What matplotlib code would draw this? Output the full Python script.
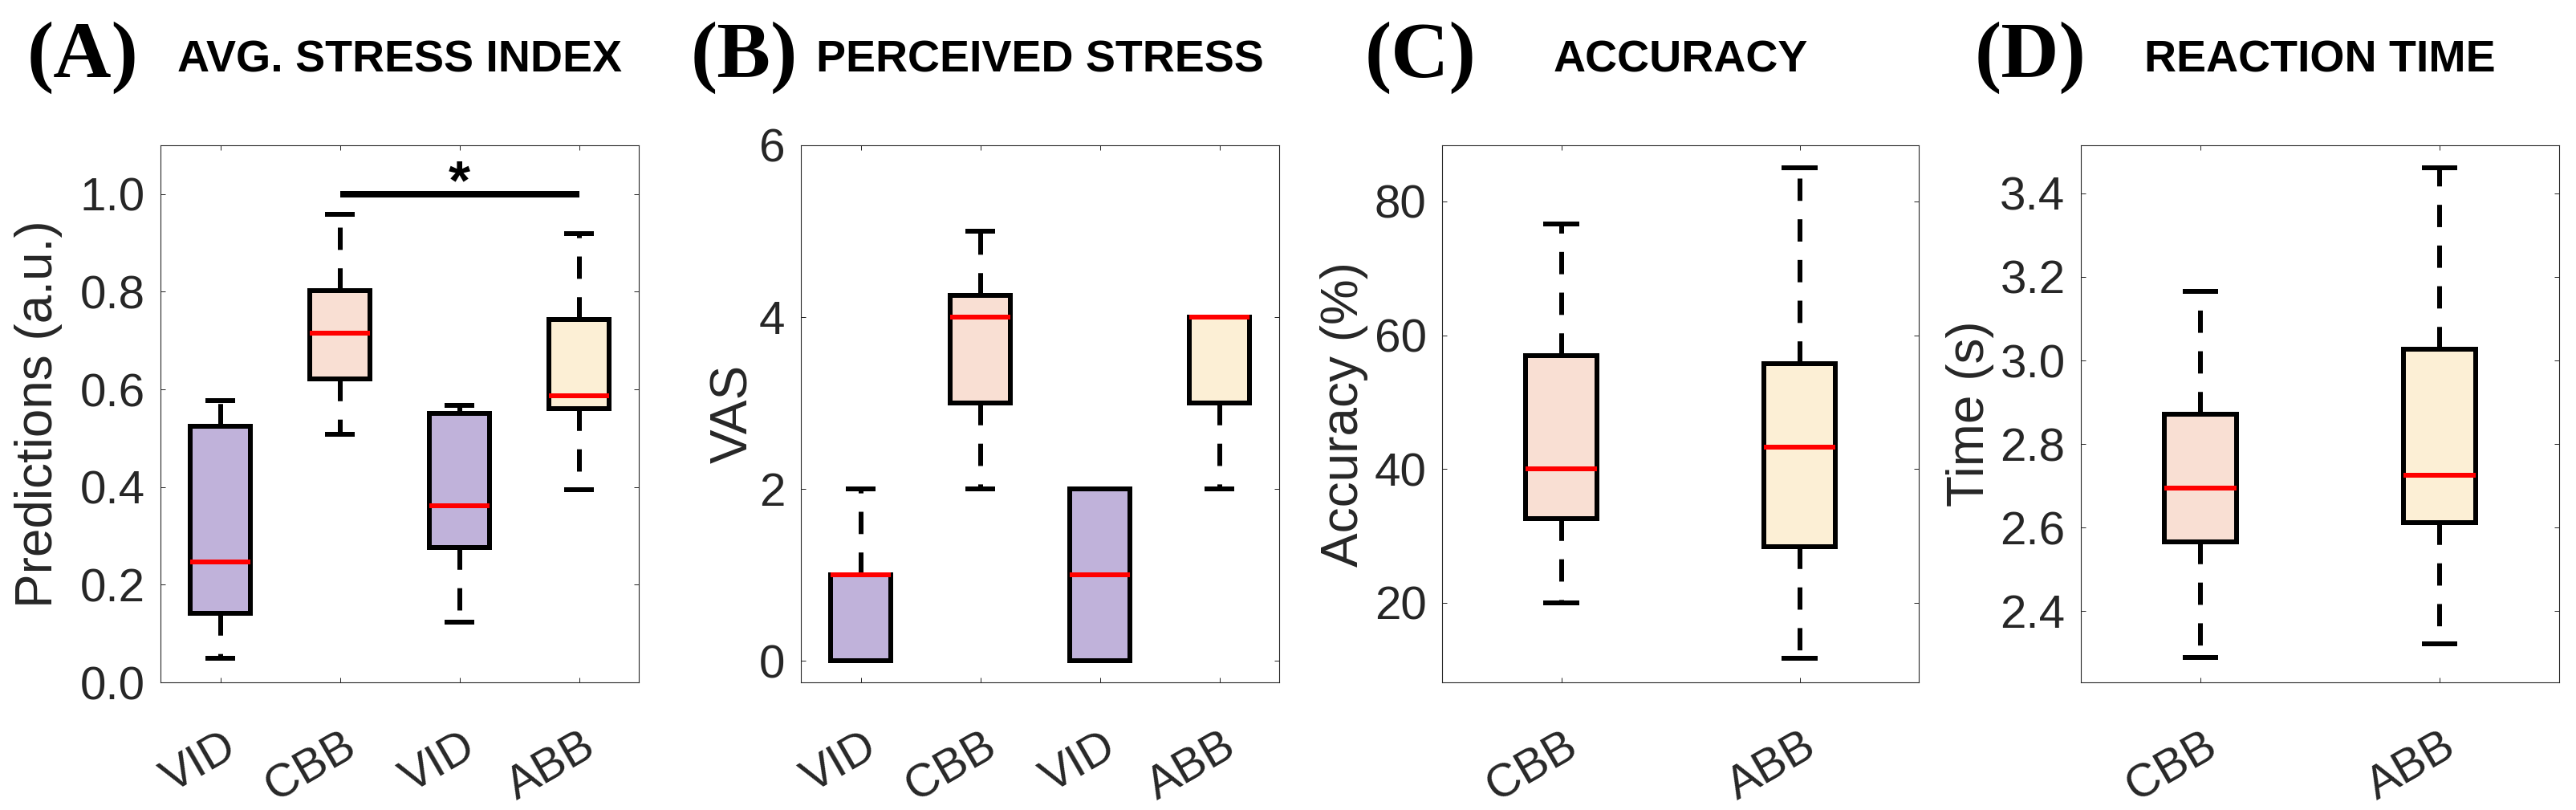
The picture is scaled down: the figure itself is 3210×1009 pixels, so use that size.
import matplotlib
matplotlib.use("Agg")
import matplotlib.pyplot as plt
from matplotlib.transforms import ScaledTranslation
from matplotlib.ticker import FormatStrFormatter

plt.rcParams['font.family'] = ['Liberation Sans', 'DejaVu Sans']
plt.rcParams['lines.scale_dashes'] = False

# ---------------- data ----------------
labels_AB = ['VID', 'CBB', 'VID', 'ABB']
labels_CD = ['CBB', 'ABB']

# (A) average stress index
whislo_A = [0.050, 0.508, 0.123, 0.394]
q1_A = [0.141, 0.622, 0.277, 0.560]
med_A = [0.246, 0.716, 0.362, 0.587]
q3_A = [0.524, 0.802, 0.551, 0.744]
whishi_A = [0.577, 0.959, 0.568, 0.919]

# (B) perceived stress (VAS)
whislo_B = [0, 2, 0, 2]
q1_B = [0, 3, 0, 3]
med_B = [1, 4, 1, 4]
q3_B = [1, 4.25, 2, 4]
whishi_B = [2, 5, 2, 4]

# (C) accuracy (%)
whislo_C = [20.0, 11.7]
q1_C = [32.6, 28.4]
med_C = [40.0, 43.3]
q3_C = [57.0, 55.8]
whishi_C = [76.6, 85.0]

# (D) reaction time (s)
whislo_D = [2.289, 2.322]
q1_D = [2.567, 2.612]
med_D = [2.694, 2.725]
q3_D = [2.871, 3.028]
whishi_D = [3.166, 3.461]

PURPLE = '#C0B2DA'
PEACH = '#F9DFD3'
CREAM = '#FCEFD5'
colors_AB = [PURPLE, PEACH, PURPLE, CREAM]
colors_CD = [PEACH, CREAM]

titles = ['AVG. STRESS INDEX', 'PERCEIVED STRESS', 'ACCURACY', 'REACTION TIME']
panel_tags = ['(A)', '(B)', '(C)', '(D)']
ylabels = ['Predictions (a.u.)', 'VAS', 'Accuracy (%)', 'Time (s)']

# ---------------- figure ----------------
W, H = 3210, 1009
DPI = 100
fig = plt.figure(figsize=(W / DPI, H / DPI), dpi=DPI)

TXT = '#262626'
px = 72.0 / DPI  # points per pixel

ax_left_px = [200, 998, 1797, 2593]
ax_w_px = [596, 596, 594, 596]
ax_top_px, ax_bot_px = 181, 850
tag_x_px = [103.5, 927.5, 1770.5, 2530]
ylabel_off = [-0.205, -0.091, -0.155, -0.182]

panels = [
    (labels_AB, whislo_A, q1_A, med_A, q3_A, whishi_A, colors_AB, 0.5, (0, 1.1),
     [0.0, 0.2, 0.4, 0.6, 0.8, 1.0], '%.1f'),
    (labels_AB, whislo_B, q1_B, med_B, q3_B, whishi_B, colors_AB, 0.5, (-0.25, 6),
     [0, 2, 4, 6], '%d'),
    (labels_CD, whislo_C, q1_C, med_C, q3_C, whishi_C, colors_CD, 0.3, (8.1, 88.4),
     [20, 40, 60, 80], '%d'),
    (labels_CD, whislo_D, q1_D, med_D, q3_D, whishi_D, colors_CD, 0.3, (2.23, 3.515),
     [2.4, 2.6, 2.8, 3.0, 3.2, 3.4], '%.1f'),
]

axes = []
for i, (labs, wl, q1, md, q3, wh, cols, bw, ylim, yt, fmt) in enumerate(panels):
    l = ax_left_px[i] / W
    b = 1 - ax_bot_px / H
    w = ax_w_px[i] / W
    h = (ax_bot_px - ax_top_px) / H
    ax = fig.add_axes([l, b, w, h])
    axes.append(ax)
    n = len(labs)
    pos = list(range(1, n + 1))
    stats = []
    for k in range(n):
        stats.append(dict(whislo=wl[k], q1=q1[k], med=md[k], q3=q3[k],
                          whishi=wh[k], fliers=[], label=labs[k]))
    lw = 6 * px
    bp = ax.bxp(stats, positions=pos, widths=bw, capwidths=bw / 2,
                patch_artist=True, showfliers=False,
                boxprops=dict(linewidth=lw, edgecolor='black', zorder=3,
                              joinstyle='miter'),
                whiskerprops=dict(linewidth=lw, color='black',
                                  linestyle=(0, (20, 16.5)), zorder=2,
                                  solid_capstyle='butt', dash_capstyle='butt'),
                capprops=dict(linewidth=lw, color='black', zorder=2,
                              solid_capstyle='butt'),
                medianprops=dict(linewidth=lw, color='#FF0000', zorder=4,
                                 solid_capstyle='butt'))
    for patch, c in zip(bp['boxes'], cols):
        patch.set_facecolor(c)
    ax.set_xlim(0.5, n + 0.5)
    ax.set_ylim(*ylim)
    ax.set_yticks(yt)
    ax.yaxis.set_major_formatter(FormatStrFormatter(fmt))
    ax.set_xticks(pos)
    ax.set_xticklabels(labs)
    ax.tick_params(axis='both', direction='in', length=6 * px, width=1 * px,
                   color=TXT, labelsize=42, labelcolor=TXT,
                   top=True, right=True)
    ax.tick_params(axis='y', pad=19.5 * px)
    ax.tick_params(axis='x', pad=76 * px)
    for sp in ax.spines.values():
        sp.set_linewidth(1.1 * px)
        sp.set_color(TXT)
    for lab in ax.get_xticklabels():
        lab.set_rotation(30)
        lab.set_ha('right')
        lab.set_va('center')
        lab.set_rotation_mode('anchor')
        lab.set_transform(lab.get_transform() +
                          ScaledTranslation(16 / DPI, 0, fig.dpi_scale_trans))
    ax.set_ylabel(ylabels[i], fontsize=46, color=TXT)
    ax.yaxis.set_label_coords(ylabel_off[i], 0.5)

    # title and panel tag
    cx = (ax_left_px[i] + ax_w_px[i] / 2) / W
    fig.text(cx, 1 - 90 / H, titles[i], ha='center', va='baseline',
             fontsize=40, fontweight='bold', color='black')
    fig.text(tag_x_px[i] / W, 1 - 72 / H, panel_tags[i], ha='center', va='center',
             fontsize=72, fontweight='bold', color='black',
             family=['Liberation Serif', 'DejaVu Serif'])

# significance bar in (A)
axA = axes[0]
sig_x = [2, 4]
sig_y = 1.0
axA.plot(sig_x, [sig_y, sig_y], color='black', linewidth=8 * px,
         solid_capstyle='butt', zorder=5)
axA.text(3, 0.99, '*', ha='center', va='baseline', fontsize=50,
         fontweight='bold', color='black')

fig.savefig('out.png', dpi=DPI, facecolor='white')
